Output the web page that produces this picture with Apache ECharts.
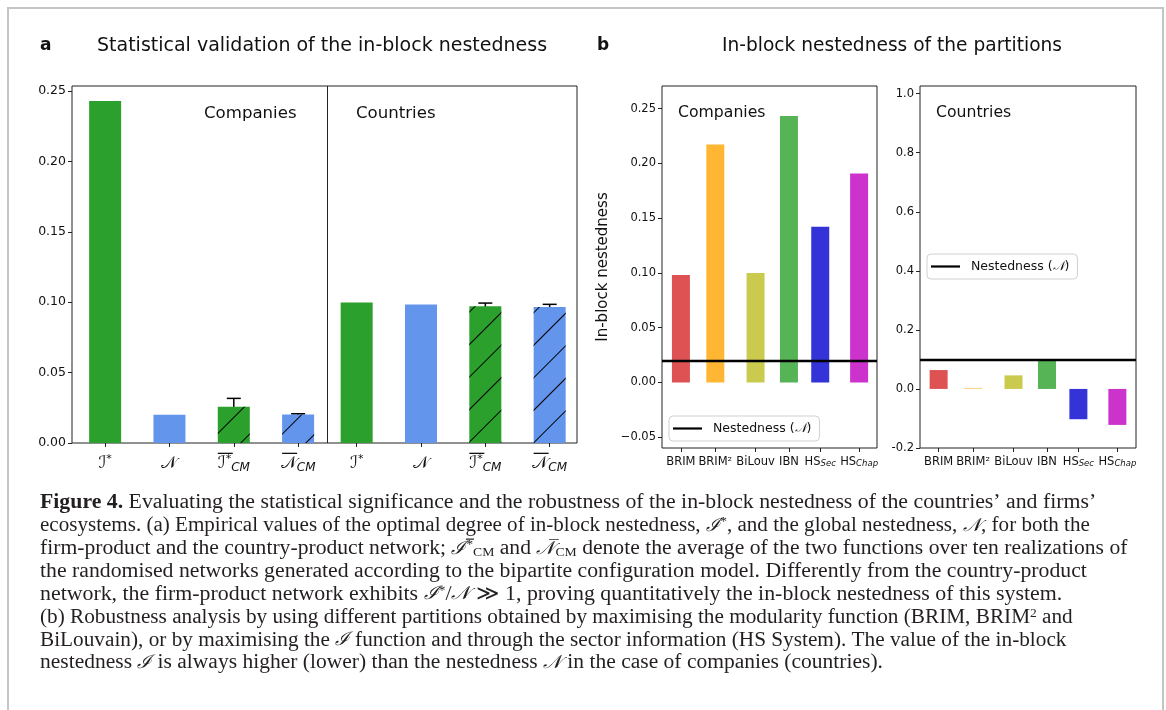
<!DOCTYPE html>
<html><head><meta charset="utf-8">
<script src="https://cdn.jsdelivr.net/npm/echarts@6/dist/echarts.min.js"></script>
<style>html,body{margin:0;padding:0;background:#fff}#c{width:1166px;height:710px}</style>
</head><body><div id="c"></div>
<script>
// ---------- Panel a data ----------
const aCategories = ['I*', 'N', 'I*CM', 'NCM', 'I*', 'N', 'I*CM', 'NCM'];
const aPositions = [0.09, 1.09, 2.09, 3.09, 4, 5, 6, 7];
const aValues = [0.243, 0.020, 0.0257, 0.0202, 0.0998, 0.0983, 0.0971, 0.0966];
const aErrors = [null, null, 0.006, 0.0006, null, null, 0.0023, 0.0019];
const aGroupLabels = ['Companies', 'Countries'];
const aYTicks = [0, 0.05, 0.10, 0.15, 0.20, 0.25];
// ---------- Panel b data ----------
const bCategories = ['BRIM', 'BRIM²', 'BiLouv', 'IBN', 'HS_Sec', 'HS_Chap'];
const bPositions = [0, 1, 2.17, 3.14, 4.05, 5.18];
const bCompanies = [0.0981, 0.2172, 0.0999, 0.2433, 0.1421, 0.1908];
const bCountries = [0.064, 0.002, 0.046, 0.098, -0.1026, -0.1218];
const bNestCompanies = 0.0207;
const bNestCountries = 0.098;
const bYTicksCompanies = [-0.05, 0, 0.05, 0.10, 0.15, 0.20, 0.25];
const bYTicksCountries = [-0.2, 0, 0.2, 0.4, 0.6, 0.8, 1.0];

const GREEN = '#2ca02c', BLUE = '#6495ed';
const bColors = ['#de5253', '#ffb733', '#c9ca4e', '#56b356', '#3333d7', '#cc33cc'];
const SANS = 'DejaVu Sans';
const SERIF = 'Liberation Serif';

const hatch = {symbol: 'rect', symbolSize: 1, dashArrayX: [1, 0], dashArrayY: [0.8, 22], rotation: -Math.PI / 4, color: '#000'};

function aLabel(name) {
  if (name === 'I*') return '{sp|}\n{m|ℐ}{sup|*}';
  if (name === 'N') return '{sp|}\n{m|𝒩}';
  if (name === 'I*CM') return '{ob|}{obr|}\n{m|ℐ}{sup|*}{sub|CM}';
  return '{ob|}{obr|}\n{m|𝒩}{sub|CM}';
}
function bLabel(name) {
  const p = name.split('_');
  return p.length > 1 ? p[0] + '{sub|' + p[1] + '}' : name;
}

const axisLabelRichA = {
  sp: {width: 1, height: 2, lineHeight: 6},
  ob: {width: 15, height: 1.3, lineHeight: 6, backgroundColor: '#111', verticalAlign: 'bottom'},
  obr: {width: 17, height: 1, lineHeight: 6},
  m: {fontFamily: SANS, fontSize: 17, lineHeight: 20, color: '#111'},
  sup: {fontFamily: SANS, fontSize: 11, lineHeight: 11, verticalAlign: 'top', color: '#111'},
  sub: {fontFamily: SANS, fontStyle: 'italic', fontSize: 12, lineHeight: 11, verticalAlign: 'bottom', color: '#111'}
};
const axisLabelRichB = {
  sub: {fontFamily: SANS, fontStyle: 'italic', fontSize: 8.5, lineHeight: 8, verticalAlign: 'bottom', color: '#111'}
};

function yAxisCfg(grid, min, max, ticks, fmt, fs) {
  return {gridIndex: grid, type: 'value', min: min, max: max,
    splitLine: {show: false}, axisLine: {show: false, onZero: false},
    axisTick: {show: true, length: 4, customValues: ticks, lineStyle: {color: '#222'}},
    axisLabel: {customValues: ticks, formatter: fmt, fontFamily: SANS, fontSize: fs, color: '#111', margin: 6}};
}
function xAxisCfg(grid, min, max, ticks, fmt, rich, fs, margin) {
  return {gridIndex: grid, type: 'value', min: min, max: max,
    splitLine: {show: false}, axisLine: {show: false, onZero: false},
    axisTick: {show: true, length: 4, customValues: ticks, lineStyle: {color: '#222'}},
    axisLabel: {customValues: ticks, formatter: fmt, rich: rich, fontFamily: SANS, fontSize: fs, color: '#111', margin: margin}};
}

const errData = [];
aValues.forEach((v, i) => { if (aErrors[i] != null) errData.push([aPositions[i], v - aErrors[i], v + aErrors[i]]); });

const legendBase = {
  data: ['Nestedness (𝒩)'], icon: 'rect', itemWidth: 29, itemHeight: 2.2, itemGap: 0,
  padding: [6, 8, 6, 4], borderColor: '#d0d0d0', borderWidth: 1, borderRadius: 4,
  backgroundColor: 'rgba(255,255,255,0.85)', selectedMode: false,
  textStyle: {fontFamily: SANS, fontSize: 12.5, color: '#111', padding: [0, 0, 0, 6],
    rich: {n: {fontFamily: 'DejaVu Serif', fontStyle: 'italic', fontSize: 12.5, color: '#111'}}},
  formatter: () => 'Nestedness ({n|𝒩})'
};

const captionLines = [
  '{b|Figure 4.} Evaluating the statistical significance and the robustness of the in-block nestedness of the countries’ and firms’',
  'ecosystems. (a) Empirical values of the optimal degree of in-block nestedness, {m|ℐ}{sp|*}, and the global nestedness, {m|𝒩}, for both the',
  'firm-product and the country-product network; {m|ℐ̅}{sp|*}{sb|CM} and {m|𝒩̅}{sb|CM} denote the average of the two functions over ten realizations of',
  'the randomised networks generated according to the bipartite configuration model. Differently from the country-product',
  'network, the firm-product network exhibits {m|ℐ}{sp|*}/{m|𝒩} ≫ 1, proving quantitatively the in-block nestedness of this system.',
  '(b) Robustness analysis by using different partitions obtained by maximising the modularity function (BRIM, BRIM{sp|2} and',
  'BiLouvain), or by maximising the {m|ℐ} function and through the sector information (HS System). The value of the in-block',
  'nestedness {m|ℐ} is always higher (lower) than the nestedness {m|𝒩} in the case of companies (countries).'
];
const captionStretch = [1.063, 1.027, 1.055, 1.061, 1.066, 1.036, 1.037, 1.05];
const CAP = 20.5;
const capRich = {
  b: {fontFamily: SERIF, fontWeight: 'bold', fontSize: CAP, fill: '#231f20'},
  m: {fontFamily: 'DejaVu Serif', fontStyle: 'italic', fontSize: CAP - 2, fill: '#231f20'},
  sp: {fontFamily: SERIF, fontSize: 13, lineHeight: 12, verticalAlign: 'top', fill: '#231f20'},
  sb: {fontFamily: SERIF, fontSize: 13, lineHeight: 12, verticalAlign: 'bottom', fill: '#231f20'}
};

const graphics = [
  {type: 'rect', shape: {x: 8, y: 8, width: 1155, height: 720}, style: {fill: 'none', stroke: '#c4c4c4', lineWidth: 2}, silent: true},
  {type: 'text', x: 40, y: 46, style: {text: 'a', fontFamily: SANS, fontWeight: 'bold', fontSize: 17, fill: '#111', verticalAlign: 'middle'}},
  {type: 'text', x: 97, y: 46, style: {text: 'Statistical validation of the in-block nestedness', fontFamily: SANS, fontSize: 19, fill: '#111', verticalAlign: 'middle'}},
  {type: 'text', x: 597, y: 46, style: {text: 'b', fontFamily: SANS, fontWeight: 'bold', fontSize: 17, fill: '#111', verticalAlign: 'middle'}},
  {type: 'text', x: 722, y: 46, style: {text: 'In-block nestedness of the partitions', fontFamily: SANS, fontSize: 18.6, fill: '#111', verticalAlign: 'middle'}},
  {type: 'text', x: 204, y: 114, style: {text: aGroupLabels[0], fontFamily: SANS, fontSize: 16.6, fill: '#111', verticalAlign: 'middle'}},
  {type: 'text', x: 356, y: 114, style: {text: aGroupLabels[1], fontFamily: SANS, fontSize: 16.6, fill: '#111', verticalAlign: 'middle'}},
  {type: 'text', x: 678, y: 113, style: {text: 'Companies', fontFamily: SANS, fontSize: 15.7, fill: '#111', verticalAlign: 'middle'}},
  {type: 'text', x: 936, y: 113, style: {text: 'Countries', fontFamily: SANS, fontSize: 15.7, fill: '#111', verticalAlign: 'middle'}},
  {type: 'text', x: 603, y: 267, rotation: Math.PI / 2, style: {text: 'In-block nestedness', fontFamily: SANS, fontSize: 15, fill: '#111', align: 'center', verticalAlign: 'middle'}}
];
captionLines.forEach((t, i) => {
  graphics.push({type: 'text', x: 40, y: 503 + i * 22.86, scaleX: captionStretch[i], style: {text: t, rich: capRich, fontFamily: SERIF, fontSize: CAP, fill: '#231f20', verticalAlign: 'middle'}});
});

const option = {
  animation: false,
  backgroundColor: '#fff',
  grid: [
    {left: 72, top: 86, width: 505, height: 357, show: true, borderColor: '#222', borderWidth: 1, backgroundColor: 'transparent'},
    {left: 662, top: 86, width: 215, height: 362, show: true, borderColor: '#222', borderWidth: 1, backgroundColor: 'transparent'},
    {left: 920, top: 86, width: 216, height: 362, show: true, borderColor: '#222', borderWidth: 1, backgroundColor: 'transparent'}
  ],
  xAxis: [
    xAxisCfg(0, -0.425, 7.425, aPositions, v => aLabel(aCategories[aPositions.indexOf(v)]), axisLabelRichA, 15, 5),
    xAxisCfg(1, -0.55, 5.70, bPositions, v => bLabel(bCategories[bPositions.indexOf(v)]), axisLabelRichB, 11.5, 8),
    xAxisCfg(2, -0.54, 5.72, bPositions, v => bLabel(bCategories[bPositions.indexOf(v)]), axisLabelRichB, 11.5, 8)
  ],
  yAxis: [
    yAxisCfg(0, 0, 0.2536, aYTicks, v => v.toFixed(2), 12.5),
    yAxisCfg(1, -0.0598, 0.2706, bYTicksCompanies, v => (v < -1e-9 ? '−' + Math.abs(v).toFixed(2) : Math.abs(v).toFixed(2)), 11.5),
    yAxisCfg(2, -0.2, 1.026, bYTicksCountries, v => (v < -1e-9 ? '-' + Math.abs(v).toFixed(1) : Math.abs(v).toFixed(1)), 11.5)
  ],
  legend: [
    Object.assign({}, legendBase, {left: 669, top: 416}),
    Object.assign({}, legendBase, {left: 927, top: 254})
  ],
  graphic: graphics,
  series: [
    {type: 'bar', xAxisIndex: 0, yAxisIndex: 0, barWidth: 32, silent: true,
      data: aValues.map((v, i) => ({value: [aPositions[i], v], itemStyle: Object.assign(
        {color: aCategories[i].indexOf('I') === 0 ? GREEN : BLUE},
        aCategories[i].indexOf('CM') > 0 ? {decal: hatch} : {})})),
      markLine: {symbol: 'none', silent: true, label: {show: false}, lineStyle: {color: '#222', width: 1, type: 'solid'}, data: [{xAxis: 3.55}]}
    },
    {type: 'custom', xAxisIndex: 0, yAxisIndex: 0, silent: true, data: errData,
      renderItem: function (params, api) {
        const x = api.value(0), lo = api.coord([x, api.value(1)]), hi = api.coord([x, api.value(2)]);
        const w = 7, st = {stroke: '#000', lineWidth: 1.5};
        return {type: 'group', children: [
          {type: 'line', shape: {x1: lo[0], y1: lo[1], x2: hi[0], y2: hi[1]}, style: st},
          {type: 'line', shape: {x1: lo[0] - w, y1: lo[1], x2: lo[0] + w, y2: lo[1]}, style: st},
          {type: 'line', shape: {x1: hi[0] - w, y1: hi[1], x2: hi[0] + w, y2: hi[1]}, style: st}
        ]};
      }
    },
    {type: 'bar', xAxisIndex: 1, yAxisIndex: 1, barWidth: 18, silent: true,
      data: bCompanies.map((v, i) => ({value: [bPositions[i], v], itemStyle: {color: bColors[i]}}))},
    {type: 'bar', xAxisIndex: 2, yAxisIndex: 2, barWidth: 18, silent: true,
      data: bCountries.map((v, i) => ({value: [bPositions[i], v], itemStyle: {color: bColors[i]}}))},
    {type: 'line', name: 'Nestedness (𝒩)', xAxisIndex: 1, yAxisIndex: 1, data: [], color: '#000', symbol: 'none',
      markLine: {symbol: 'none', silent: true, label: {show: false}, lineStyle: {color: '#000', width: 2.3, type: 'solid'}, data: [{yAxis: bNestCompanies}]}},
    {type: 'line', name: 'Nestedness (𝒩)', xAxisIndex: 2, yAxisIndex: 2, data: [], color: '#000', symbol: 'none',
      markLine: {symbol: 'none', silent: true, label: {show: false}, lineStyle: {color: '#000', width: 2.3, type: 'solid'}, data: [{yAxis: bNestCountries}]}}
  ]
};
const chart = echarts.init(document.getElementById('c'), null, {renderer: 'canvas'});
chart.setOption(option);
</script>
</body></html>
